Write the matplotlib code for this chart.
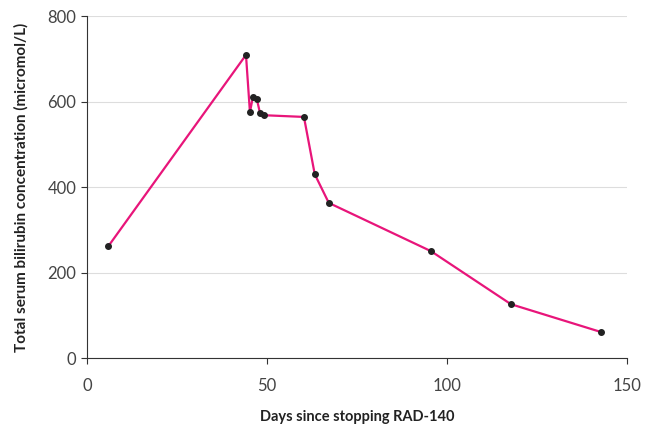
import matplotlib
matplotlib.use("Agg")
import matplotlib.pyplot as plt

days = [6, 44.2, 45.3, 46.1, 47.2, 48.1, 49.2, 60.3, 63.3, 67.2, 95.6, 117.8, 142.8]
bilirubin = [262, 709, 575, 610, 606, 573, 568, 564, 430, 363, 250, 126, 61]

plt.rcParams['font.family'] = ['Lato', 'DejaVu Sans']

fig = plt.figure(figsize=(6.53, 4.33), dpi=100)
ax = fig.add_axes([0.133, 0.173, 0.827, 0.79])

ax.plot(days, bilirubin, color='#e8157a', lw=1.6, zorder=3)
ax.scatter(days, bilirubin, s=16, color='#222222', zorder=4)

ax.set_xlim(0, 150)
ax.set_ylim(0, 800)
ax.set_xticks([0, 50, 100, 150])
ax.set_yticks([0, 200, 400, 600, 800])
ax.yaxis.grid(True, color='#dddddd', lw=0.8)
ax.set_axisbelow(True)
for s in ['top', 'right']:
    ax.spines[s].set_visible(False)
for s in ['left', 'bottom']:
    ax.spines[s].set_color('#333333')
    ax.spines[s].set_linewidth(0.8)
ax.tick_params(axis='both', colors='#333333', labelcolor='#444444', labelsize=12, length=4, width=0.8)
ax.tick_params(axis='x', pad=10)

ax.set_xlabel('Days since stopping RAD-140', fontsize=10.5, fontweight='bold', labelpad=12, color='#222222')
ax.set_ylabel('Total serum bilirubin concentration (micromol/L)', fontsize=11, fontweight='bold', labelpad=14, color='#222222')

fig.savefig('out.png', dpi=100)
